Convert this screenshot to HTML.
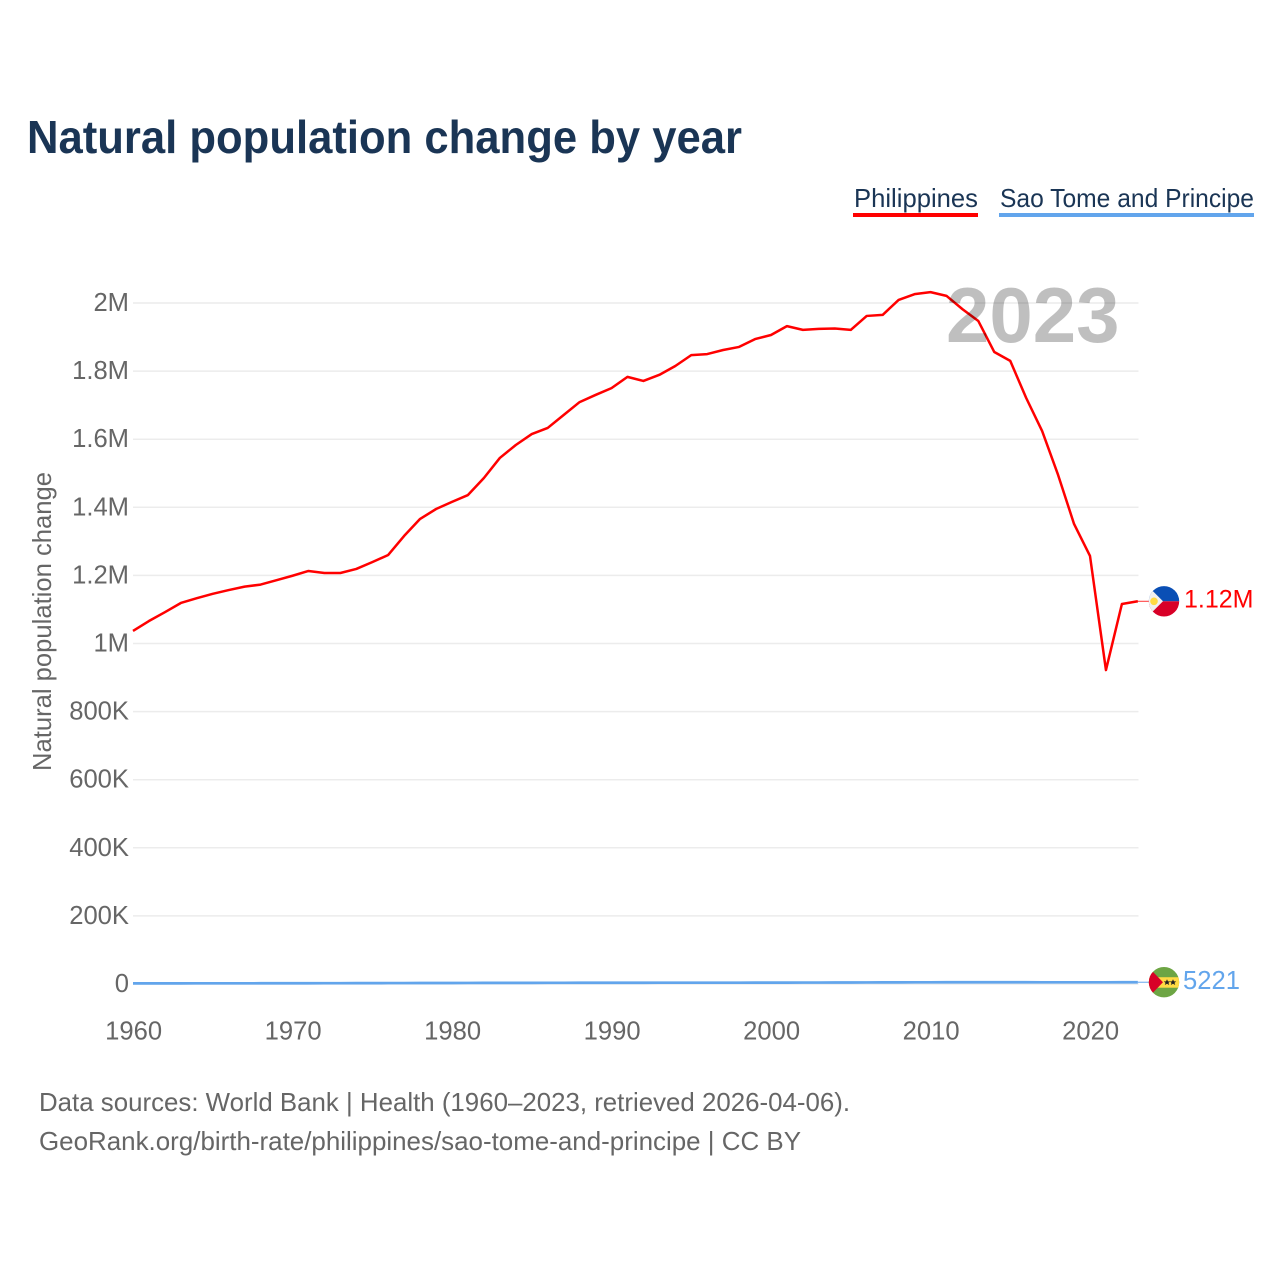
<!DOCTYPE html>
<html lang="en">
<head>
<meta charset="utf-8">
<title>Natural population change by year</title>
<style>
  html, body { margin: 0; padding: 0; background: #fff; }
  svg { display: block; font-family: "Liberation Sans", sans-serif; }
  .tick { font-size: 25.6px; fill: #666; }
  .foot { font-size: 26px; fill: #666; }
  .legend { font-size: 26px; fill: #1a3555; cursor: pointer; }
</style>
</head>
<body>
<svg id="chart" xmlns="http://www.w3.org/2000/svg" width="1280" height="1280" viewBox="0 0 1280 1280">
  <text x="27" y="153" font-size="46" font-weight="700" fill="#1a3555" textLength="715" lengthAdjust="spacingAndGlyphs">Natural population change by year</text>

  <g>
    <text class="legend" x="854" y="207" textLength="124" lengthAdjust="spacingAndGlyphs">Philippines</text>
    <rect x="853" y="213" width="125" height="4" fill="#ff0000"/>
  </g>
  <g>
    <text class="legend" x="1000" y="207" textLength="254" lengthAdjust="spacingAndGlyphs">Sao Tome and Principe</text>
    <rect x="999" y="213" width="255" height="4" fill="#62a5ec"/>
  </g>

  <text class="tick" transform="translate(51 621.5) rotate(-90)" text-anchor="middle" textLength="299" lengthAdjust="spacingAndGlyphs">Natural population change</text>

  <g id="grid"></g>
  <g id="yticks"></g>
  <g id="xticks"></g>
  <g id="series"></g>

  <text x="946" y="342" font-size="78" font-weight="700" fill="#000" fill-opacity="0.25">2023</text>

  <g id="ends"></g>

  <text class="foot" x="39" y="1111" textLength="811" lengthAdjust="spacingAndGlyphs">Data sources: World Bank | Health (1960–2023, retrieved 2026-04-06).</text>
  <text class="foot" x="39" y="1150" textLength="762" lengthAdjust="spacingAndGlyphs">GeoRank.org/birth-rate/philippines/sao-tome-and-principe | CC BY</text>
</svg>

<script>
const startYear = 1960;
const xTickYears = [1960, 1970, 1980, 1990, 2000, 2010, 2020];
const yTickValues = [0, 200000, 400000, 600000, 800000, 1000000, 1200000, 1400000, 1600000, 1800000, 2000000];
const philippinesValues = [
  1037000, 1066000, 1092000, 1119000, 1133000, 1146000, 1157000, 1167000, 1173000, 1186000,
  1199000, 1213000, 1207000, 1207000, 1219000, 1239000, 1260000, 1316000, 1366000, 1395000,
  1416000, 1436000, 1486000, 1545000, 1583000, 1615000, 1633000, 1671000, 1709000, 1730000,
  1750000, 1783000, 1771000, 1789000, 1815000, 1847000, 1850000, 1862000, 1871000, 1894000,
  1906000, 1932000, 1921000, 1924000, 1925000, 1921000, 1962000, 1965000, 2009000, 2026000,
  2032000, 2021000, 1982000, 1947000, 1856000, 1830000, 1721000, 1624000, 1495000, 1351000,
  1257000, 922000, 1116000, 1124000
];
const saoTomeValues = [
  1900, 1900, 1900, 1900, 2000, 2000, 2000, 2000, 2100, 2200,
  2300, 2300, 2400, 2400, 2500, 2600, 2700, 2800, 2900, 3000,
  3000, 3100, 3200, 3300, 3300, 3400, 3500, 3500, 3600, 3600,
  3700, 3700, 3700, 3800, 3800, 3800, 3900, 3900, 3900, 4000,
  4000, 4100, 4200, 4300, 4400, 4500, 4600, 4700, 4800, 4900,
  5000, 5100, 5200, 5200, 5200, 5100, 5100, 5000, 5000, 5000,
  5000, 5000, 5100, 5221
];

const NS = 'http://www.w3.org/2000/svg';
const xOf = function (year) { return 133 + (year - 1960) * 15.95; };
const yOf = function (value) { return 984 - value / 1000000 * 340.5; };

function mk(parent, tag, attrs) {
  const el = document.createElementNS(NS, tag);
  for (const k in attrs) el.setAttribute(k, attrs[k]);
  parent.appendChild(el);
  return el;
}
function fmt(v) {
  if (v >= 1000000) {
    const m = v / 1000000;
    return (v % 1000000 === 0 ? m.toFixed(0) : (v % 100000 === 0 ? m.toFixed(1) : m.toFixed(2))) + 'M';
  }
  if (v >= 10000) return (v / 1000).toFixed(0) + 'K';
  return String(v);
}

const grid = document.getElementById('grid');
const yticks = document.getElementById('yticks');
yTickValues.forEach(function (v) {
  const line = mk(grid, 'line', { x1: 133, x2: 1138.5, y1: yOf(v), y2: yOf(v), stroke: '#ececec', 'stroke-width': 1.5 });
  
  
  const t = mk(yticks, 'text', { x: 129, y: yOf(v) + 8, 'text-anchor': 'end', class: 'tick' });
  
  
  t.textContent = fmt(v);
});

const xticks = document.getElementById('xticks');
xTickYears.forEach(function (yr) {
  const t = mk(xticks, 'text', { x: xOf(yr) + 0.6, y: 1039.5, 'text-anchor': 'middle', class: 'tick' });
  
  
  t.textContent = String(yr);
});

function linePoints(values) {
  return values.map(function (v, i) { return xOf(startYear + i).toFixed(2) + ',' + yOf(v).toFixed(2); }).join(' ');
}
const series = document.getElementById('series');
const saoLine = mk(series, 'polyline', { points: linePoints(saoTomeValues), fill: 'none', stroke: '#62a5ec', 'stroke-width': 2.7, 'stroke-linejoin': 'round' });


const phLine = mk(series, 'polyline', { points: linePoints(philippinesValues), fill: 'none', stroke: '#ff0000', 'stroke-width': 2.5, 'stroke-linejoin': 'round' });



const ends = document.getElementById('ends');
const lastX = xOf(startYear + philippinesValues.length - 1);

/* Philippines end marker */
const phVal = philippinesValues[philippinesValues.length - 1];
const phY = yOf(phVal);
const phConn = mk(ends, 'line', { x1: lastX, x2: 1150, y1: phY, y2: phY, stroke: '#ff0000', 'stroke-width': 1, 'stroke-opacity': 0.8 });


const phFlag = mk(ends, 'g', { transform: 'translate(1164 ' + phY + ')' });


const phClip = mk(phFlag, 'clipPath', { id: 'clip-ph' });
mk(phClip, 'circle', { r: 15.2 });
const phInner = mk(phFlag, 'g', { 'clip-path': 'url(#clip-ph)' });
mk(phInner, 'rect', { x: -16, y: -16, width: 32, height: 16, fill: '#0a4fb5' });
mk(phInner, 'rect', { x: -16, y: 0, width: 32, height: 16, fill: '#d80027' });
mk(phInner, 'polygon', { points: '-16,-15 -1,0 -16,15', fill: '#f0f0f0' });
mk(phInner, 'circle', { cx: -10, cy: 0, r: 3.8, fill: '#ffda44' });

const phLabel = mk(ends, 'text', { x: 1184, y: phY + 6, 'font-size': 25, fill: '#ff0000' });


phLabel.textContent = fmt(phVal);

/* Sao Tome end marker */
const stVal = saoTomeValues[saoTomeValues.length - 1];
const stY = yOf(stVal);
const stConn = mk(ends, 'line', { x1: lastX, x2: 1150, y1: stY, y2: stY, stroke: '#62a5ec', 'stroke-width': 1 });


const stFlag = mk(ends, 'g', { transform: 'translate(1164 ' + stY + ')' });


const stClip = mk(stFlag, 'clipPath', { id: 'clip-st' });
mk(stClip, 'circle', { r: 15.2 });
const stInner = mk(stFlag, 'g', { 'clip-path': 'url(#clip-st)' });
mk(stInner, 'rect', { x: -16, y: -16, width: 32, height: 32, fill: '#6da544' });
mk(stInner, 'rect', { x: -16, y: -5, width: 32, height: 10.5, fill: '#ffda44' });
mk(stInner, 'polygon', { points: '-16,-15.5 -1,0 -16,15.5', fill: '#d80027' });
mk(stInner, 'polygon', { points: '3,-3 4,-0.8 6.2,-0.8 4.5,0.6 5.2,2.8 3,1.5 0.8,2.8 1.5,0.6 -0.2,-0.8 2,-0.8', fill: '#222' });
mk(stInner, 'polygon', { points: '9,-3 10,-0.8 12.2,-0.8 10.5,0.6 11.2,2.8 9,1.5 6.8,2.8 7.5,0.6 5.8,-0.8 8,-0.8', fill: '#222' });

const stLabel = mk(ends, 'text', { x: 1183, y: stY + 7, 'font-size': 25.6, fill: '#62a5ec' });


stLabel.textContent = fmt(stVal);
</script>
</body>
</html>
